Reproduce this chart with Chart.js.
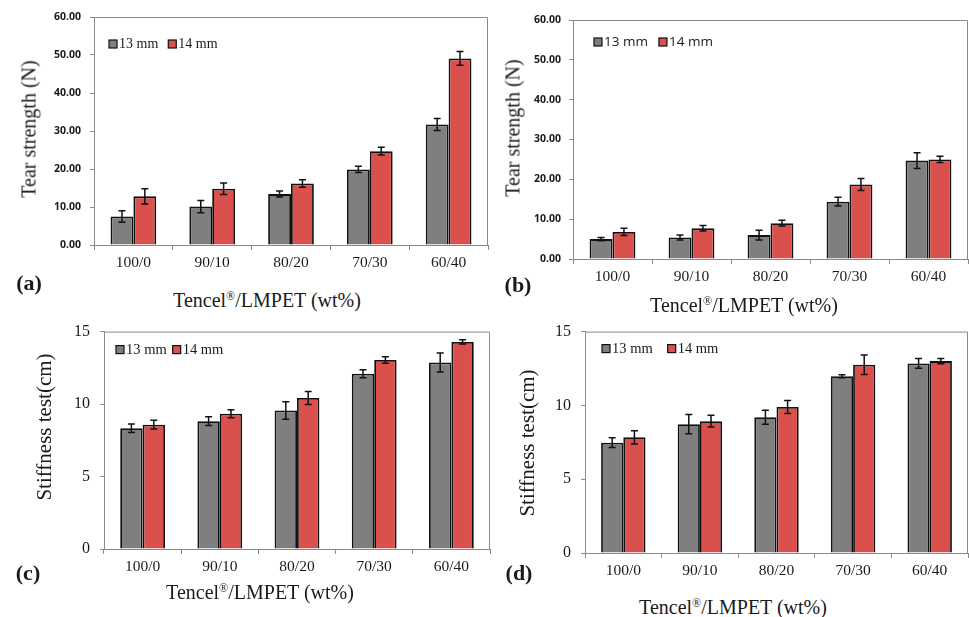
<!DOCTYPE html>
<html>
<head>
<meta charset="utf-8">
<script src="https://cdn.jsdelivr.net/npm/chart.js@4/dist/chart.umd.min.js"></script>
<style>
  html, body { margin: 0; padding: 0; background: #fff; }
  body { width: 969px; height: 617px; position: relative; overflow: hidden; }
  canvas { position: absolute; }
  .txt { position: absolute; transform: translate(-50%, -50%); white-space: nowrap;
         font-family: "Liberation Serif", serif; color: #1a1a1a; }
  .ttl { font-size: 20px; }
  .ylab { font-size: 20px; transform: translate(-50%, -50%) rotate(-90deg); }
  .ylab.st { font-size: 21px; }
  .letter { font-size: 22px; font-weight: bold; }
  sup { font-size: 0.6em; vertical-align: 0.55em; line-height: 0; }
</style>
</head>
<body>
<canvas id="chartA"></canvas>
<canvas id="chartB"></canvas>
<canvas id="chartC"></canvas>
<canvas id="chartD"></canvas>

<div class="txt ylab" style="left:29px; top:129px;">Tear strength (N)</div>
<div class="txt ylab" style="left:513px; top:128px;">Tear strength (N)</div>
<div class="txt ylab st" style="left:44px; top:427px;">Stiffness test(cm)</div>
<div class="txt ylab st" style="left:527px; top:443px;">Stiffness test(cm)</div>

<div class="txt letter" style="left:29px; top:283px;">(a)</div>
<div class="txt letter" style="left:518px; top:285px;">(b)</div>
<div class="txt letter" style="left:28px; top:573px;">(c)</div>
<div class="txt letter" style="left:519px; top:573px;">(d)</div>

<div class="txt ttl" style="left:267px; top:300px;">Tencel<sup>®</sup>/LMPET (wt%)</div>
<div class="txt ttl" style="left:744px; top:305px;">Tencel<sup>®</sup>/LMPET (wt%)</div>
<div class="txt ttl" style="left:260px; top:592px;">Tencel<sup>®</sup>/LMPET (wt%)</div>
<div class="txt ttl" style="left:733px; top:607px;">Tencel<sup>®</sup>/LMPET (wt%)</div>

<script>
// categories and series
const categories = ['100/0', '90/10', '80/20', '70/30', '60/40'];
const seriesNames = ['13 mm', '14 mm'];

// (a) tear strength, N
const tearA13 = [7.5, 10.1, 13.4, 19.9, 31.7];
const tearA13Err = [1.5, 1.6, 0.8, 0.8, 1.6];
const tearA14 = [12.8, 14.8, 16.2, 24.7, 49.1];
const tearA14Err = [2.0, 1.5, 1.0, 1.0, 1.8];

// (b) tear strength, N
const tearB13 = [5.0, 5.4, 6.0, 14.4, 24.7];
const tearB13Err = [0.4, 0.6, 1.2, 1.1, 2.0];
const tearB14 = [6.8, 7.7, 9.0, 18.7, 25.0];
const tearB14Err = [0.9, 0.7, 0.7, 1.5, 0.8];

// (c) stiffness, cm
const stiffC13 = [8.33, 8.82, 9.56, 12.09, 12.87];
const stiffC13Err = [0.3, 0.3, 0.6, 0.27, 0.65];
const stiffC14 = [8.58, 9.33, 10.42, 13.04, 14.29];
const stiffC14Err = [0.3, 0.27, 0.45, 0.23, 0.15];

// (d) stiffness, cm
const stiffD13 = [7.47, 8.73, 9.2, 11.98, 12.84];
const stiffD13Err = [0.33, 0.65, 0.47, 0.1, 0.33];
const stiffD14 = [7.84, 8.93, 9.89, 12.76, 13.0];
const stiffD14Err = [0.45, 0.4, 0.44, 0.66, 0.18];

// y tick labels
const tearTicks = [0, 10, 20, 30, 40, 50, 60];
const stiffTicks = [0, 5, 10, 15];

const GRAY = '#7f7f7f';
const RED = '#d9504c';
const AXIS = '#8a8a8a';
const SERIF = '"Liberation Serif", serif';
const SANS = '"Open Sans", sans-serif';

// error bars, drawn through the y scale
const errorBars = {
  id: 'errorBars',
  afterDatasetsDraw(chart) {
    const ctx = chart.ctx;
    const y = chart.scales.y;
    ctx.save();
    ctx.strokeStyle = '#111';
    ctx.lineWidth = 1.5;
    chart.data.datasets.forEach((ds, i) => {
      const meta = chart.getDatasetMeta(i);
      meta.data.forEach((bar, j) => {
        const v = ds.data[j], e = ds.errors[j];
        const yTop = y.getPixelForValue(v + e);
        const yBot = y.getPixelForValue(v - e);
        ctx.beginPath();
        ctx.moveTo(bar.x, yTop); ctx.lineTo(bar.x, yBot);
        ctx.moveTo(bar.x - 3.5, yTop); ctx.lineTo(bar.x + 3.5, yTop);
        ctx.moveTo(bar.x - 3.5, yBot); ctx.lineTo(bar.x + 3.5, yBot);
        ctx.stroke();
      });
    });
    ctx.restore();
  }
};

// gray box on top and right of the plot area
const frame = {
  id: 'frame',
  beforeDatasetsDraw(chart) {
    const a = chart.chartArea, ctx = chart.ctx;
    ctx.save();
    ctx.strokeStyle = AXIS;
    ctx.lineWidth = 1;
    ctx.beginPath();
    ctx.moveTo(a.left, a.top + 0.5);
    ctx.lineTo(a.right - 0.5, a.top + 0.5);
    ctx.lineTo(a.right - 0.5, a.bottom);
    ctx.stroke();
    ctx.restore();
  }
};

// legend inside the plot area, top left
const innerLegend = {
  id: 'innerLegend',
  afterDraw(chart, args, opts) {
    const ctx = chart.ctx, a = chart.chartArea;
    let x = a.left + opts.dx;
    const y = a.top + opts.dy;
    ctx.save();
    ctx.font = opts.font;
    ctx.textBaseline = 'middle';
    chart.data.datasets.forEach(ds => {
      ctx.fillStyle = ds.backgroundColor;
      ctx.fillRect(x, y - 4, 8, 8);
      ctx.strokeStyle = '#111';
      ctx.lineWidth = 1.2;
      ctx.strokeRect(x, y - 4, 8, 8);
      ctx.fillStyle = '#1a1a1a';
      ctx.fillText(ds.label, x + 10, y + 0.5);
      x += 10 + ctx.measureText(ds.label).width + opts.gap;
    });
    ctx.restore();
  }
};

function makePanel(id, cv, box, s13, e13, s14, e14, ticks, tickFmt, yFont, yPad, legend) {
  const el = document.getElementById(id);
  el.style.left = cv.left + 'px';
  el.style.top = cv.top + 'px';
  el.style.width = cv.width + 'px';
  el.style.height = cv.height + 'px';
  el.width = cv.width;
  el.height = cv.height;
  const yWidth = box.left - cv.left;
  const xHeight = cv.top + cv.height - box.bottom;
  return new Chart(el, {
    type: 'bar',
    data: {
      labels: categories,
      datasets: [
        { label: seriesNames[0], data: s13, errors: e13, backgroundColor: GRAY },
        { label: seriesNames[1], data: s14, errors: e14, backgroundColor: RED }
      ]
    },
    options: {
      responsive: false,
      animation: false,
      layout: { padding: { top: box.top - cv.top, right: cv.left + cv.width - box.right, left: 0, bottom: 0 } },
      datasets: {
        bar: { borderColor: '#111', borderWidth: 1.8, barPercentage: 1.0, categoryPercentage: 0.58 }
      },
      plugins: {
        legend: { display: false },
        tooltip: { enabled: false },
        innerLegend: legend
      },
      scales: {
        x: {
          afterFit(scale) { scale.height = xHeight; },
          grid: { offset: true, drawOnChartArea: false, tickLength: 5, color: AXIS },
          border: { color: AXIS, width: 1 },
          ticks: { font: { family: SERIF, size: 15.5 }, color: '#1a1a1a', padding: 4 }
        },
        y: {
          min: ticks[0],
          max: ticks[ticks.length - 1],
          afterFit(scale) { scale.width = yWidth; },
          afterBuildTicks(scale) { scale.ticks = ticks.map(v => ({ value: v })); },
          grid: { drawOnChartArea: false, tickLength: 4, color: AXIS },
          border: { color: AXIS, width: 1 },
          ticks: { font: yFont, color: '#1a1a1a', padding: yPad, callback: tickFmt }
        }
      }
    },
    plugins: [frame, errorBars, innerLegend]
  });
}

const fmt2 = v => v.toFixed(2);
const fmt0 = v => String(v);

makePanel('chartA', { left: 0, top: 0, width: 492, height: 275 },
  { left: 94, top: 17, right: 488, bottom: 245 },
  tearA13, tearA13Err, tearA14, tearA14Err, tearTicks, fmt2,
  { family: SANS, size: 10.5, weight: 'bold' }, 9,
  { dx: 15, dy: 27, gap: 10, font: '14px ' + SERIF });

makePanel('chartB', { left: 490, top: 0, width: 479, height: 290 },
  { left: 573, top: 20, right: 968, bottom: 259 },
  tearB13, tearB13Err, tearB14, tearB14Err, tearTicks, fmt2,
  { family: SANS, size: 10.5, weight: 'bold' }, 8,
  { dx: 21, dy: 22, gap: 11, font: '13.5px ' + SANS });

makePanel('chartC', { left: 0, top: 312, width: 494, height: 270 },
  { left: 104, top: 324, right: 490, bottom: 549 },
  stiffC13, stiffC13Err, stiffC14, stiffC14Err, stiffTicks, fmt0,
  { family: SERIF, size: 16 }, 10,
  { dx: 12, dy: 18, gap: 6, font: '14.5px ' + SERIF });

makePanel('chartD', { left: 494, top: 312, width: 475, height: 275 },
  { left: 585, top: 328, right: 968, bottom: 553 },
  stiffD13, stiffD13Err, stiffD14, stiffD14Err, stiffTicks, fmt0,
  { family: SERIF, size: 16 }, 10,
  { dx: 17, dy: 17, gap: 15, font: '14.5px ' + SERIF });
</script>
</body>
</html>
